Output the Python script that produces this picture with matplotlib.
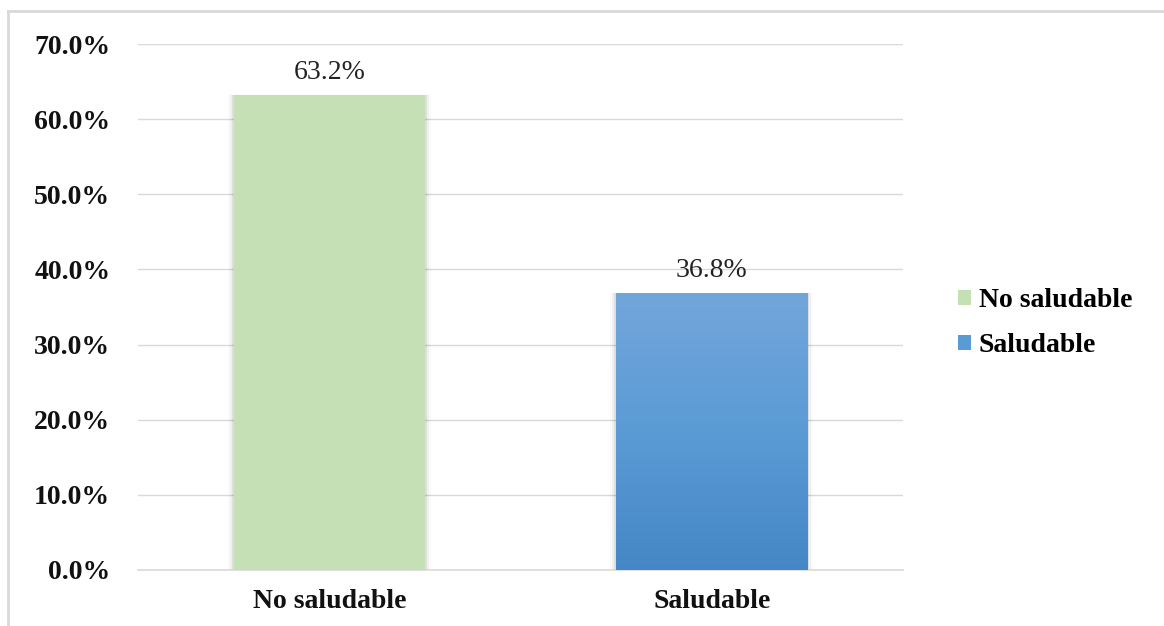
import numpy as np
import matplotlib
matplotlib.use("Agg")
import matplotlib.pyplot as plt
from matplotlib.patches import Patch
from matplotlib.lines import Line2D
from matplotlib.colors import LinearSegmentedColormap

categories = ["No saludable", "Saludable"]
values = [63.2, 36.8]
yticks = [0, 10, 20, 30, 40, 50, 60, 70]
ytick_labels = ["0.0%", "10.0%", "20.0%", "30.0%", "40.0%", "50.0%", "60.0%", "70.0%"]

green = "#C5E0B4"
blue_top = "#72A6DB"
blue_mid = "#5B9BD5"
blue_bottom = "#4586C6"

serif = ["Liberation Serif", "DejaVu Serif"]
fs = 20

fig = plt.figure(figsize=(11.64, 6.26), dpi=100)
ax = fig.add_axes([0.1186, 0.0895, 0.6572, 0.8402])

x = np.arange(len(categories))
width = 0.50
bars = ax.bar(x, values, width=width, color=[green, blue_mid], zorder=3)

# soft shadow around bars
for b in bars:
    for k, a in enumerate([0.07, 0.04, 0.02]):
        off = 0.005 * (k + 1)
        ax.add_patch(plt.Rectangle((b.get_x() - off, 0), b.get_width() + 2 * off,
                                   b.get_height() + off * 6, color="black",
                                   alpha=a, lw=0, zorder=2))

# vertical gradient fill for the second bar
blue_bar = bars[1]
cmap = LinearSegmentedColormap.from_list("bl", [blue_bottom, blue_mid, blue_top])
grad = np.linspace(0, 1, 256).reshape(-1, 1)
bx0 = blue_bar.get_x()
im = ax.imshow(grad, cmap=cmap, aspect="auto", origin="lower",
               extent=(bx0, bx0 + blue_bar.get_width(), 0, blue_bar.get_height()),
               zorder=4)
im.set_clip_path(blue_bar)

ax.set_xlim(-0.5, 1.5)
ax.set_ylim(0, 70)
ax.set_yticks(yticks)
ax.set_yticklabels(ytick_labels)
ax.set_xticks(x)
ax.set_xticklabels(categories)

for lab in ax.get_yticklabels() + ax.get_xticklabels():
    lab.set_fontfamily(serif)
    lab.set_fontweight("bold")
    lab.set_fontsize(fs)
    lab.set_color("#111111")

ax.tick_params(axis="y", length=0, pad=20)
ax.tick_params(axis="x", length=0, pad=14)
ax.grid(axis="y", color="#D9D9D9", lw=1, zorder=0)
for s in ["top", "right", "left"]:
    ax.spines[s].set_visible(False)
ax.spines["bottom"].set_color("#D9D9D9")
ax.spines["bottom"].set_linewidth(1.2)

for xi, v in zip(x, values):
    ax.text(xi, v + 1.4, f"{v:.1f}%", ha="center", va="bottom",
            fontfamily=serif, fontsize=fs, color="#222222", zorder=5)

handles = [Patch(facecolor=green, label=categories[0]),
           Patch(facecolor=blue_mid, label=categories[1])]
fig.legend(handles=handles, loc="center left", bbox_to_anchor=(0.8016, 0.484),
           frameon=False, prop={"family": serif, "weight": "bold", "size": fs},
           handlelength=0.45, handleheight=0.45, handletextpad=0.3,
           labelspacing=0.72)

# outer frame (top and left edges)
fig.add_artist(Line2D([8 / 1164, 8 / 1164], [0, 1 - 11 / 626],
                      transform=fig.transFigure, color="#D9D9D9", lw=2))
fig.add_artist(Line2D([8 / 1164, 1], [1 - 11 / 626, 1 - 11 / 626],
                      transform=fig.transFigure, color="#D9D9D9", lw=2))

fig.savefig("out.png", dpi=100, facecolor="white")
